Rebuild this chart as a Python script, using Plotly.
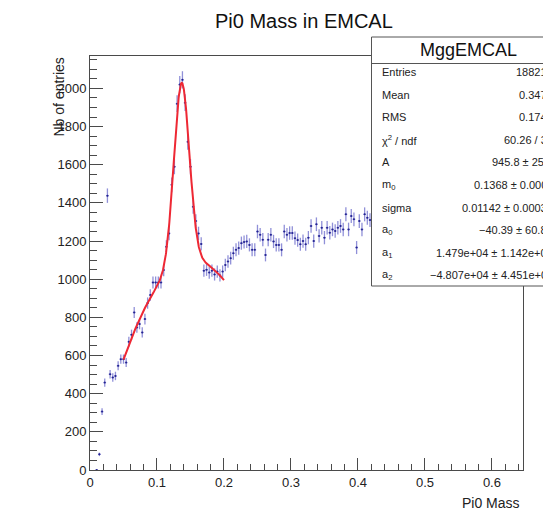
import numpy as np
import plotly.graph_objects as go

# ---------------- data ----------------
bin_width = 0.004
counts = [None, None, 0, 82, 306, 458, 1438, 502, 485, 493,
          546, 581, 581, 563, 672, 709, 826, 747, 765, 721,
          791, 875, 917, 983, 983, 983, 983, 1048, 1170, 1240,
          1495, 1590, 1920, 2020, 2045, 1925, 1720, 1590, 1380, 1305,
          1240, 1185, 1045, 1050, 1035, 1045, 1025, 1040, 1020, 1040,
          1075, 1093, 1110, 1136, 1154, 1163, 1189, 1195, 1198, 1180,
          1154, 1154, 1250, 1233, 1207, 1127, 1207, 1233, 1198, 1180,
          1180, 1154, 1250, 1233, 1242, 1242, 1215, 1205, 1183, 1200,
          1183, 1218, 1279, 1200, 1288, 1227, 1270, 1218, 1270, 1244,
          1261, 1253, 1270, 1279, 1261, 1340, 1261, 1331, 1314, 1166,
          1305, 1261, 1340, 1322, 1310]

fit_range = [0.05, 0.2]
fit_values = [945.8, 0.1368, 0.01142, -40.39, 1.479e4, -4.807e4]  # A, m0, sigma, a0, a1, a2

stats_title = "MggEMCAL"
stats_labels = ["Entries", "Mean", "RMS", "χ<sup>2</sup> / ndf", "A", "m<sub>0</sub>",
                "sigma", "a<sub>0</sub>", "a<sub>1</sub>", "a<sub>2</sub>"]
stats_values = ["188218", "0.3470", "0.1743", "60.26 / 31", "945.8 ± 25.0",
                "0.1368 ± 0.0003", "0.01142 ± 0.00037", "−40.39 ± 60.89",
                "1.479e+04 ± 1.142e+03", "−4.807e+04 ± 4.451e+03"]

x_tickvals = [0, 0.1, 0.2, 0.3, 0.4, 0.5, 0.6]
x_ticktext = ["0", "0.1", "0.2", "0.3", "0.4", "0.5", "0.6"]
y_tickvals = [0, 200, 400, 600, 800, 1000, 1200, 1400, 1600, 1800, 2000]
y_ticktext = [str(v) for v in y_tickvals]

title_text = "Pi0 Mass in EMCAL"
x_title = "Pi0 Mass"
y_title = "Nb of entries"

# ---------------- layout geometry ----------------
OFF = 8                      # page body margin
VW, VH = 551, 520            # viewport
W, H = VW - OFF, VH - OFF    # figure size
# plot area in viewport pixels
PX0, PX1, PY0, PY1 = 90, 523, 56, 470
L, R, T, B = PX0 - OFF, VW - PX1, PY0 - OFF, VH - PY1
PW, PH = W - L - R, H - T - B
FONT = "Liberation Sans, Arial, Helvetica, sans-serif"
AX = "#4a4a4a"


def px(x):
    """viewport x pixel -> paper coordinate"""
    return (x - PX0) / PW


def py(y):
    """viewport y pixel (from top) -> paper coordinate"""
    return (PY1 - y) / PH


centers = (np.arange(len(counts)) + 0.5) * bin_width
yvals = np.array([np.nan if c is None else c for c in counts], dtype=float)
yerr = np.sqrt(yvals)

A, m0, sg, a0, a1, a2 = fit_values
xf = np.linspace(fit_range[0], fit_range[1], 400)
yf = A * np.exp(-0.5 * ((xf - m0) / sg) ** 2) + a0 + a1 * xf + a2 * xf ** 2

EB = "rgba(85,85,195,0.65)"
fig = go.Figure()
fig.add_trace(go.Scatter(
    x=centers, y=yvals, mode="markers",
    marker=dict(size=2, color="#23238f"),
    error_y=dict(type="data", array=yerr, thickness=1.3, width=0, color=EB),
    error_x=dict(type="constant", value=bin_width / 2, thickness=1.3, width=0, color=EB),
    hoverinfo="x+y", showlegend=False))
fig.add_trace(go.Scatter(
    x=xf, y=yf, mode="lines", line=dict(color="rgb(238,40,52)", width=2),
    showlegend=False, hoverinfo="skip"))

shapes = [
    dict(type="rect", xref="paper", yref="paper", x0=px(371.5), x1=px(620), y0=py(286), y1=py(37),
         line=dict(color="#555555", width=1), fillcolor="white", layer="above"),
    dict(type="line", xref="paper", yref="paper", x0=px(371.5), x1=px(620), y0=py(63.5), y1=py(63.5),
         line=dict(color="#555555", width=1), layer="above"),
]

ann = []
ann.append(dict(text=title_text, xref="paper", yref="paper", x=px(304), y=py(21),
                xanchor="center", yanchor="middle", showarrow=False,
                font=dict(family=FONT, size=20, color="#111")))
ann.append(dict(text=x_title, xref="paper", yref="paper", x=px(522), y=py(503),
                xanchor="right", yanchor="middle", showarrow=False,
                font=dict(family=FONT, size=14, color="#222")))
ann.append(dict(text=y_title, xref="paper", yref="paper", x=px(58), y=py(56),
                xanchor="center", yanchor="top", textangle=-90, showarrow=False,
                font=dict(family=FONT, size=14, color="#222")))
ann.append(dict(text=stats_title, xref="paper", yref="paper", x=px(468), y=py(50),
                xanchor="center", yanchor="middle", showarrow=False,
                font=dict(family=FONT, size=18, color="#111")))
row0, step = 72.0, 22.6
for i, (lab, val) in enumerate(zip(stats_labels, stats_values)):
    yc = row0 + i * step
    ann.append(dict(text=lab, xref="paper", yref="paper", x=px(380), y=py(yc),
                    xanchor="left", yanchor="middle", showarrow=False,
                    font=dict(family=FONT, size=11, color="#222")))
    ann.append(dict(text=val, xref="paper", yref="paper", x=px(555), y=py(yc),
                    xanchor="right", yanchor="middle", showarrow=False,
                    font=dict(family=FONT, size=11, color="#222")))

fig.update_layout(
    width=W, height=H, autosize=False,
    margin=dict(l=L, r=R, t=T, b=B, pad=0),
    paper_bgcolor="white", plot_bgcolor="white",
    font=dict(family=FONT, size=13, color="#222"),
    shapes=shapes, annotations=ann, showlegend=False,
    xaxis=dict(range=[0, 0.6464], tickmode="array", tickvals=x_tickvals, ticktext=x_ticktext,
               ticks="inside", ticklen=12, tickwidth=1, tickcolor=AX,
               minor=dict(tickmode="linear", tick0=0, dtick=0.02, ticks="inside", ticklen=6,
                          tickwidth=1, tickcolor=AX, showgrid=False),
               showline=True, linecolor=AX, linewidth=1, mirror=True,
               showgrid=False, zeroline=False, tickfont=dict(family=FONT, size=13, color="#222")),
    yaxis=dict(range=[0, 2170], tickmode="array", tickvals=y_tickvals, ticktext=y_ticktext,
               ticks="inside", ticklen=13, tickwidth=1, tickcolor=AX,
               minor=dict(tickmode="linear", tick0=0, dtick=50, ticks="inside", ticklen=7,
                          tickwidth=1, tickcolor=AX, showgrid=False),
               showline=True, linecolor=AX, linewidth=1, mirror=True,
               showgrid=False, zeroline=False, tickfont=dict(family=FONT, size=13, color="#222")),
)

fig.write_html("out.html")
